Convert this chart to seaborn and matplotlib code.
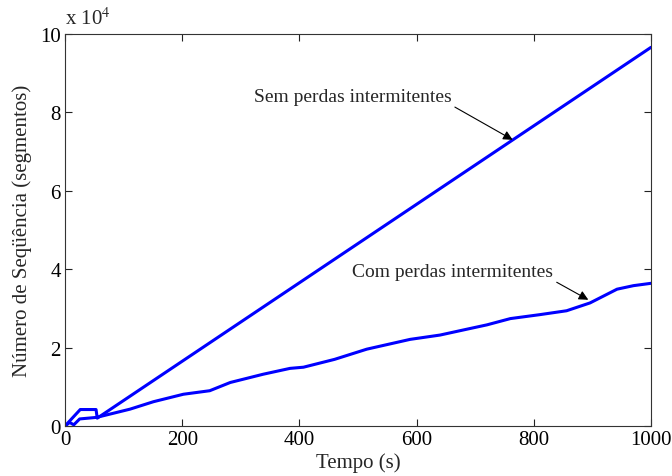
import matplotlib
matplotlib.use("Agg")
import matplotlib.pyplot as plt
import seaborn as sns
import pandas as pd

# ---- data ----
t_sem = [0, 26, 53, 55, 1000]
v_sem = [0, 4200, 4200, 2000, 96600]

t_com = [0, 8, 15, 25, 54, 111, 151, 202, 247, 282, 338, 384, 407, 460,
         515, 589, 640, 686, 720, 760, 810, 856, 896, 942, 970, 1000]
v_com = [0, 900, 300, 1800, 2200, 4300, 6200, 8100, 9000, 11100, 13200,
         14700, 15000, 17000, 19600, 22100, 23200, 24700, 25800, 27400, 28400,
         29400, 31400, 34900, 35800, 36400]

x_ticks = [0, 200, 400, 600, 800, 1000]
y_ticks = [0, 20000, 40000, 60000, 80000, 100000]
y_tick_labels = ["0", "2", "4", "6", "8", "10"]

label_sem = "Sem perdas intermitentes"
label_com = "Com perdas intermitentes"

sns.set_style("ticks")
plt.rcParams['font.family'] = ['Liberation Serif', 'DejaVu Serif']
plt.rcParams['mathtext.fontset'] = 'stix'

fig = plt.figure(figsize=(6.72, 4.77), dpi=100)
ax = fig.add_axes([65/672, 50/477, 586/672, 392/477])

df_sem = pd.DataFrame({"t": t_sem, "v": v_sem})
df_com = pd.DataFrame({"t": t_com, "v": v_com})
sns.lineplot(data=df_sem, x="t", y="v", ax=ax, color="#0000ff", lw=2.2,
             sort=False, estimator=None)
sns.lineplot(data=df_com, x="t", y="v", ax=ax, color="#0000ff", lw=2.2,
             sort=False, estimator=None)

ax.set_xlim(0, 1000)
ax.set_ylim(0, 100000)
ax.set_xticks(x_ticks)
ax.set_xticklabels([str(x) for x in x_ticks])
ax.set_yticks(y_ticks)
ax.set_yticklabels(y_tick_labels)
ax.tick_params(direction='in', top=True, right=True, length=5, width=0.8,
               labelsize=15, pad=3, colors='#222222', labelcolor='black')
for s in ax.spines.values():
    s.set_linewidth(0.8)
    s.set_color('#333333')

ax.set_xlabel("Tempo (s)", fontsize=15, labelpad=2)
ax.set_ylabel("Número de Seqüência (segmentos)", fontsize=15, labelpad=6)

ax.text(0.0, 1.012, r"x 10$^{4}$", transform=ax.transAxes, fontsize=15,
        ha='left', va='bottom')

ax.annotate(label_sem, xy=(764, 73000), xytext=(491, 84000),
            fontsize=14, ha='center', va='center',
            arrowprops=dict(arrowstyle='-|>', color='black', lw=0.8,
                            mutation_scale=14, shrinkA=0, shrinkB=0,
                            relpos=(1.0, 0.0)))
ax.annotate(label_com, xy=(893, 32200), xytext=(662, 39300),
            fontsize=14, ha='center', va='center',
            arrowprops=dict(arrowstyle='-|>', color='black', lw=0.8,
                            mutation_scale=14, shrinkA=0, shrinkB=0,
                            relpos=(1.0, 0.0)))

fig.savefig("out.png", dpi=100, facecolor='white')
